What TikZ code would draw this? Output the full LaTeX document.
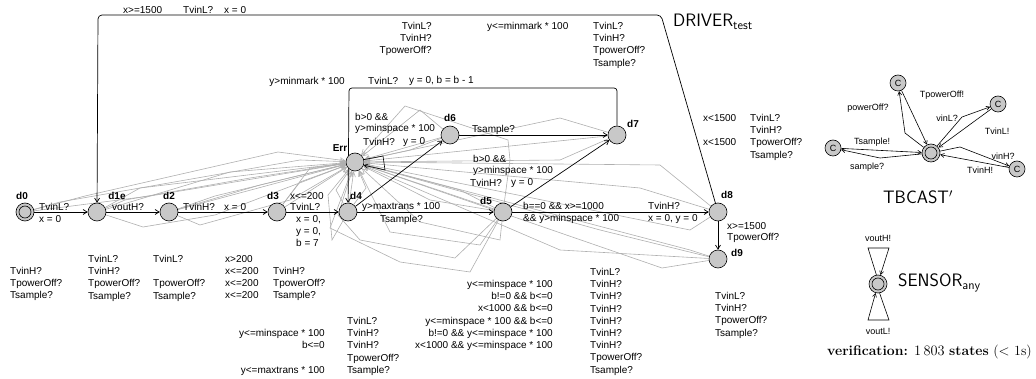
\documentclass[tikz,border=0pt]{standalone}
\usepackage{fontspec}
\newfontfamily\arial{Liberation Sans}
\usetikzlibrary{arrows.meta,backgrounds}
\definecolor{nodefill}{RGB}{200,200,200}
\definecolor{errgray}{RGB}{175,175,175}
\tikzset{
  st/.style={circle, draw=black, fill=nodefill, minimum size=18pt, inner sep=0pt, line width=0.6pt},
  cst/.style={circle, draw=black, fill=nodefill, minimum size=16pt, inner sep=0pt, line width=0.6pt, font=\arial\fontsize{9}{10}\selectfont},
  lab/.style={font=\arial\fontsize{10}{12.2}\selectfont, inner sep=0pt},
  slab/.style={font=\arial\fontsize{9}{10}\selectfont, inner sep=0pt},
  nm/.style={font=\arial\bfseries\fontsize{10}{12}\selectfont, inner sep=0pt},
  title/.style={font=\sffamily\fontsize{18}{20}\selectfont, inner sep=0pt},
  edge/.style={draw=black, line width=0.7pt, -{Straight Barb[length=4pt,width=5pt]}},
  edgetwo/.style={draw=black, line width=0.6pt, -{Straight Barb[length=3.5pt,width=4pt]}},
  err/.style={draw=errgray, line width=0.6pt, -{Straight Barb[length=5pt,width=5pt]}},
}
\begin{document}
\begin{tikzpicture}[x=1pt,y=-1pt]
\useasboundingbox (0,0) rectangle (1036,379);
% ---------- DRIVER nodes
\node[st] (d0) at (25,212) {};
\draw[line width=0.6pt] (d0.center) circle (6pt);
\node[st] (d1e) at (97,212) {};
\node[st] (d2) at (169,212) {};
\node[st] (d3) at (277,212) {};
\node[st] (d4) at (348,212) {};
\node[st] (Err) at (355,162) {};
\node[st] (d6) at (450,135) {};
\node[st] (d7) at (617,135) {};
\node[st] (d5) at (503,212) {};
\node[st] (d8) at (718,212) {};
\node[st] (d9) at (718,259) {};
\node[nm] at (22,196) {d0};
\node[nm] at (117,196) {d1e};
\node[nm] at (169,196) {d2};
\node[nm] at (273,196) {d3};
\node[nm] at (356,196) {d4};
\node[nm] at (340,148) {Err};
\node[nm] at (450,118) {d6};
\node[nm] at (633,124) {d7};
\node[nm] at (486,201) {d5};
\node[nm] at (727,195) {d8};
\node[nm] at (737,253) {d9};

\begin{scope}[on background layer]
% ---------- gray error transitions
\draw[err] (d0) -- (85,196) -- (278,152) -- (Err);
\draw[err] (d0) -- (150,196) -- (Err);
\draw[err] (d0) -- (60,202) -- (300,160) -- (Err);
\draw[err] (d1e) -- (143,227) -- (215,215) -- (Err);
\draw[err] (d1e) -- (140,188) -- (Err);
\draw[err] (d1e) -- (230,172) -- (Err);
\draw[err] (d1e) -- (125,200) -- (250,178) -- (Err);
\draw[err] (d2) -- (215,196) -- (Err);
\draw[err] (d2) -- (260,185) -- (Err);
\draw[err] (d2) -- (Err);
\draw[err] (d2) -- (200,225) -- (290,200) -- (Err);
\draw[err] (d3) -- (300,182) -- (Err);
\draw[err] (d3) -- (Err);
\draw[err] (d3) -- (310,168) -- (Err);
\draw[err] (d4) -- (336,190) -- (Err);
\draw[err] (d4) -- (366,188) -- (Err);
\draw[err] (d4) -- (Err);
\draw[err] (d4) -- (332,240) -- (328,195) -- (Err);
\draw[err] (d5) -- (Err);
\draw[err] (d5) -- (460,190) -- (Err);
\draw[err] (d5) -- (480,245) -- (390,232) -- (Err);
\draw[err] (d5) -- (455,258) -- (360,240) -- (338,215) -- (Err);
\draw[err] (d5) -- (470,272) -- (400,262) -- (330,228) -- (Err);
\draw[err] (d5) -- (500,240) -- (420,222) -- (Err);
\draw[err] (d5) -- (510,160) -- (508,140) -- (405,106) -- (Err);
\draw[err] (d5) -- (430,200) -- (Err);
\draw[err] (d6) -- (Err);
\draw[err] (d6) -- (410,150) -- (Err);
\draw[err] (d6) -- (420,110) -- (Err);
\draw[err] (d7) -- (560,118) -- (Err);
\draw[err] (d7) -- (Err);
\draw[err] (d7) -- (560,160) -- (Err);
\draw[err] (d8) -- (640,188) -- (Err);
\draw[err] (d8) -- (690,230) -- (Err);
\draw[err] (d8) -- (660,165) -- (Err);
\draw[err] (d9) -- (662,268) -- (Err);
\draw[err] (d9) -- (600,230) -- (Err);
\draw[err] (d9) -- (560,250) -- (Err);
\draw[err] (d9) -- (690,250) -- (Err);
% ---------- black transitions
\draw[edge] (d0) -- (d1e);
\draw[edge] (d1e) -- (d2);
\draw[edge] (d2) -- (d3);
\draw[edge] (d3) -- (d4);
\draw[edge] (d4) -- (d5);
\draw[edge] (d5) -- (d8);
\draw[edge] (d8) -- (d9);
\draw[edge] (d4) -- (d6);
\draw[edge] (d5) -- (d7);
\draw[edge] (d6) -- (d7);
\draw[edge, rounded corners=3pt] (d7) -- (617,88) -- (349,88) -- (d4);
\draw[edge, rounded corners=4pt] (d8) -- (661,15) -- (98,15) -- (d1e);
\draw[edgetwo] (Err.15) -- (383,156) -- (385,170) -- (Err.-20);
\end{scope}

% ---------- labels of black transitions
\node[lab, anchor=west] at (39,207) {TvinL?};
\node[lab, anchor=west] at (39,219) {x = 0};
\node[lab, anchor=west] at (112,207) {voutH?};
\node[lab, anchor=west] at (183,207) {TvinH?};
\node[lab, anchor=west] at (224,207) {x = 0};
\node[lab, anchor=west] at (290,196) {x<=200};
\node[lab, anchor=west] at (290,207) {TvinL?};
\node[lab, anchor=north west, align=left] at (296,215) {x = 0,\\y = 0,\\b = 7};
\node[lab, anchor=west] at (362,207) {y>maxtrans * 100};
\node[lab, anchor=west] at (380,220) {Tsample?};
\node[lab, anchor=west] at (523,206) {b==0 \&\& x>=1000};
\node[lab, anchor=west] at (523,219) {\&\& y>minspace * 100};
\node[lab, anchor=west] at (648,206) {TvinH?};
\node[lab, anchor=west] at (648,219) {x = 0, y = 0};
\node[lab, anchor=west] at (727,226) {x>=1500};
\node[lab, anchor=west] at (727,238) {TpowerOff?};
\node[lab, anchor=west] at (355,117) {b>0 \&\&};
\node[lab, anchor=west] at (355,129) {y>minspace * 100};
\node[lab, anchor=west] at (363,142) {TvinH?};
\node[lab, anchor=west] at (403,142) {y = 0};
\node[lab, anchor=west] at (473,159) {b>0 \&\&};
\node[lab, anchor=west] at (473,171) {y>minspace * 100};
\node[lab, anchor=west] at (470,183) {TvinH?};
\node[lab, anchor=west] at (511,183) {y = 0};
\node[lab, anchor=west] at (472,130) {Tsample?};
\node[lab, anchor=east] at (345,82) {y>minmark * 100};
\node[lab, anchor=west] at (368,81) {TvinL?};
\node[lab, anchor=west] at (409,81) {y = 0, b = b - 1};
\node[lab, anchor=west] at (123,10) {x>=1500};
\node[lab, anchor=west] at (183,10) {TvinL?};
\node[lab, anchor=west] at (224,10) {x = 0};

% ---------- labels of gray transitions
\node[lab, anchor=north west, align=left] at (10,267) {TvinH?\\TpowerOff?\\Tsample?};
\node[lab, anchor=north west, align=left] at (88,255) {TvinL?\\TvinH?\\TpowerOff?\\Tsample?};
\node[lab, anchor=north west, align=left] at (153,255) {TvinL?\\\mbox{}\\TpowerOff?\\Tsample?};
\node[lab, anchor=north west, align=left] at (225,255) {x>200\\x<=200\\x<=200\\x<=200};
\node[lab, anchor=north west, align=left] at (273,267) {TvinH?\\TpowerOff?\\Tsample?};
\node[lab, anchor=north east, align=right] at (325,329) {y<=minspace * 100\\b<=0\\\mbox{}\\y<=maxtrans * 100};
\node[lab, anchor=north west, align=left] at (347,317) {TvinL?\\TvinH?\\TvinH?\\TpowerOff?\\Tsample?};
\node[lab, anchor=north east, align=right] at (553,280) {y<=minspace * 100\\b!=0 \&\& b<=0\\x<1000 \&\& b<=0\\y<=minspace * 100 \&\& b<=0\\b!=0 \&\& y<=minspace * 100\\x<1000 \&\& y<=minspace * 100};
\node[lab, anchor=north west, align=left] at (590,268) {TvinL?\\TvinH?\\TvinH?\\TvinH?\\TvinH?\\TvinH?\\TvinH?\\TpowerOff?\\Tsample?};
\node[lab, anchor=north west, align=left] at (715,292) {TvinL?\\TvinH?\\TpowerOff?\\Tsample?};
\node[lab, anchor=north east, align=right] at (432,22) {TvinL?\\TvinH?\\TpowerOff?};
\node[lab, anchor=north west, align=left] at (487,22) {y<=minmark * 100};
\node[lab, anchor=north west, align=left] at (593,22) {TvinL?\\TvinH?\\TpowerOff?\\Tsample?};
\node[lab, anchor=north west, align=left] at (703,114) {x<1500\\\mbox{}\\x<1500};
\node[lab, anchor=north west, align=left] at (750,114) {TvinL?\\TvinH?\\TpowerOff?\\Tsample?};

% ---------- titles
\node[title, anchor=west] (tdriver) at (673,22) {DRIVER\textsubscript{test}};
\node[title] (ttb) at (918,197) {TBCAST$'$};
\node[title, anchor=west] (tsens) at (898,283) {SENSOR\textsubscript{any}};
\node[anchor=east, inner sep=0pt, font=\fontsize{14}{16}\selectfont] (tver) at (1032,352) {\textbf{verification:} $1\,803$ \textbf{states} ($<$ 1s)};

% ---------- TBCAST
\node[st] (T0) at (931,153) {};
\draw[line width=0.6pt] (T0.center) circle (6pt);
\node[cst] (Ct) at (898,83) {C};
\node[cst] (Cr) at (998,104) {C};
\node[cst] (Cl) at (833,148) {C};
\node[cst] (Cb) at (1017,169) {C};
\begin{scope}[on background layer]
\draw[edgetwo] (T0) -- (905,133) -- (Ct);
\draw[edgetwo] (Ct) -- (T0);
\draw[edgetwo] (T0) -- (962,117) -- (Cr);
\draw[edgetwo] (Cr) -- (T0);
\draw[edgetwo] (T0) -- (880,158) -- (Cl);
\draw[edgetwo] (Cl) -- (T0);
\draw[edgetwo] (T0) -- (960,147) -- (Cb);
\draw[edgetwo] (Cb) -- (T0);
\end{scope}
\node[slab] at (942,95) {TpowerOff!};
\node[slab] at (868,108) {powerOff?};
\node[slab] at (947,118) {vinL?};
\node[slab] at (997,131) {TvinL!};
\node[slab] at (872,142) {Tsample!};
\node[slab] at (867,167) {sample?};
\node[slab] at (1003,156) {vinH?};
\node[slab] at (980,170) {TvinH!};

% ---------- SENSOR
\node[st] (S0) at (878,284) {};
\draw[line width=0.6pt] (S0.center) circle (6pt);
\begin{scope}[on background layer]
\draw[edgetwo] (S0.100) -- (868,248) -- (889,248) -- (S0.75);
\draw[edgetwo] (S0.-80) -- (889,320) -- (868,320) -- (S0.-105);
\end{scope}
\node[slab] at (878,238) {voutH!};
\node[slab] at (878,331) {voutL!};
\end{tikzpicture}
\end{document}
